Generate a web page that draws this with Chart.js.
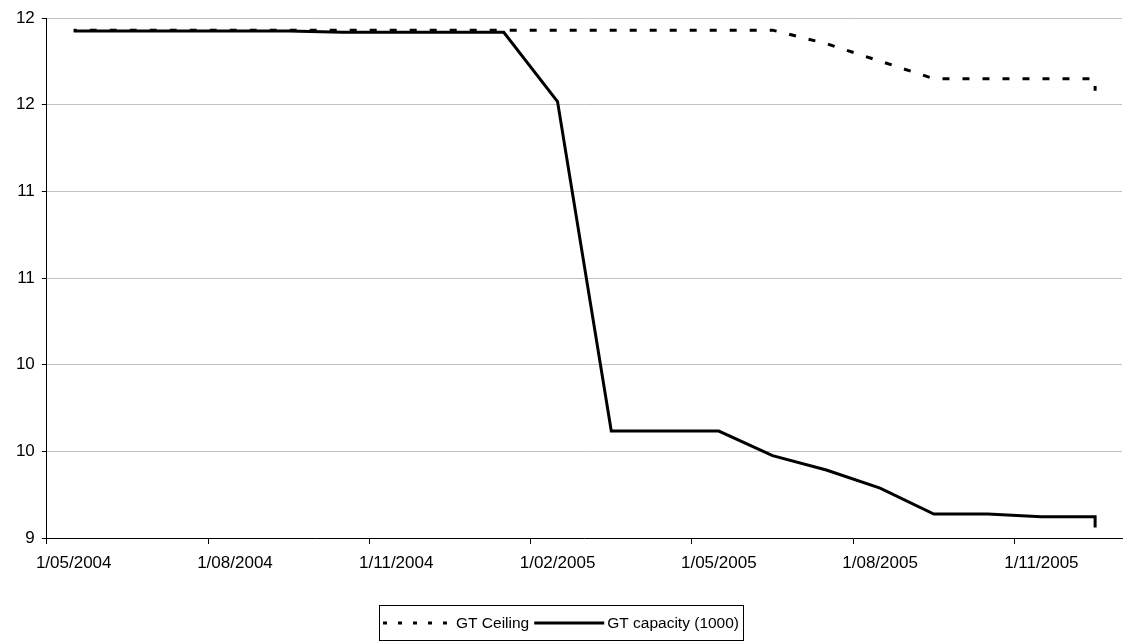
<!DOCTYPE html>
<html>
<head>
<meta charset="utf-8">
<script src="https://cdn.jsdelivr.net/npm/chart.js@4/dist/chart.umd.min.js"></script>
<style>
  html, body { margin: 0; padding: 0; background: #fff; }
  #wrap { width: 1125px; height: 642px; }
</style>
</head>
<body>
<div id="wrap"><canvas id="c" width="1125" height="642"></canvas></div>
<script>
// ---- data (monthly observations; two readings in Dec 2005) ----
const dates = ['2004-05','2004-06','2004-07','2004-08','2004-09','2004-10','2004-11','2004-12',
               '2005-01','2005-02','2005-03','2005-04','2005-05','2005-06','2005-07','2005-08',
               '2005-09','2005-10','2005-11','2005-12','2005-12'];
const gtCeiling = [11.93,11.93,11.93,11.93,11.93,11.93,11.93,11.93,
                   11.93,11.93,11.93,11.93,11.93,11.93,11.852,11.751,
                   11.65,11.65,11.65,11.65,11.58];
const gtCapacity = [11.925,11.925,11.925,11.925,11.925,11.918,11.918,11.918,
                    11.918,11.518,9.617,9.617,9.617,9.475,9.392,9.288,
                    9.138,9.138,9.122,9.122,9.061];
const seriesNames = ['GT Ceiling', 'GT capacity (1000)'];
const xTickLabels = ['1/05/2004','1/08/2004','1/11/2004','1/02/2005','1/05/2005','1/08/2005','1/11/2005'];
const axisStart = '2004-05';
const axisMonths = 20;
const yMin = 9, yMax = 12, yStep = 0.5;

const FONT = '"Liberation Sans", Arial, sans-serif';

// Excel-style date axis, base unit = month: each point sits in its month's slot
function monthIndex(s) {
  const [y, m] = s.split('-').map(Number);
  const [y0, m0] = axisStart.split('-').map(Number);
  return (y - y0) * 12 + (m - m0);
}
const toPoints = vals => vals.map((v, i) => ({ x: monthIndex(dates[i]) + 0.5, y: v }));

// custom boxed legend like the original
const boxedLegend = {
  id: 'boxedLegend',
  afterDraw(chart) {
    const ctx = chart.ctx;
    const fs = 15.5;
    ctx.save();
    ctx.font = fs + 'px ' + FONT;
    const lineLen = 70, gapLT = 3, gapItems = 5, padX = 4;
    const items = chart.data.datasets.map(ds => ({
      label: ds.label, dash: ds.borderDash || [], width: ctx.measureText(ds.label).width
    }));
    let total = padX * 2;
    items.forEach((it, i) => { total += lineLen + gapLT + it.width + (i ? gapItems : 0); });
    const boxTop = 605, boxH = 35;
    let x = Math.round((chart.width - total) / 2) - 1;
    const left = x;
    ctx.strokeStyle = '#000';
    ctx.lineWidth = 1;
    ctx.setLineDash([]);
    ctx.strokeRect(left + 0.5, boxTop + 0.5, Math.round(total), boxH);
    const cy = boxTop + boxH / 2 + 0.5;
    x += padX;
    items.forEach((it, i) => {
      if (i) x += gapItems;
      ctx.beginPath();
      ctx.setLineDash(it.dash.length ? [4, 11] : []);
      ctx.lineWidth = 3;
      ctx.moveTo(x, cy);
      ctx.lineTo(x + lineLen, cy);
      ctx.stroke();
      x += lineLen + gapLT;
      ctx.setLineDash([]);
      ctx.fillStyle = '#000';
      ctx.textBaseline = 'middle';
      ctx.textAlign = 'left';
      ctx.fillText(it.label, x, cy + 1);
      x += it.width;
    });
    ctx.restore();
  }
};

const chart = new Chart(document.getElementById('c'), {
  type: 'line',
  data: {
    datasets: [
      { label: seriesNames[0], data: toPoints(gtCeiling), borderColor: '#000', borderWidth: 3,
        borderDash: [7, 13], borderDashOffset: 4, borderCapStyle: 'butt', pointRadius: 0, tension: 0, order: 1 },
      { label: seriesNames[1], data: toPoints(gtCapacity), borderColor: '#000', borderWidth: 3,
        pointRadius: 0, tension: 0, order: 0 }
    ]
  },
  options: {
    responsive: false,
    animation: false,
    events: [],
    layout: { padding: { top: 18, right: 3, bottom: 64, left: 0 } },
    plugins: { legend: { display: false }, tooltip: { enabled: false } },
    scales: {
      x: {
        type: 'linear', min: 0, max: axisMonths,
        afterBuildTicks: s => { s.ticks = xTickLabels.map((_, i) => ({ value: i * 3 })); },
        afterFit: s => { s.height = 40; },
        grid: { drawOnChartArea: false, drawTicks: true, tickLength: 6, tickColor: '#000' },
        border: { display: true, color: '#000', width: 1 },
        ticks: {
          autoSkip: false, maxRotation: 0, padding: 9, color: '#000',
          font: { family: FONT, size: 17 },
          callback: v => xTickLabels[Math.round(v / 3)]
        }
      },
      y: {
        min: yMin, max: yMax,
        afterFit: s => { s.width = 44; },
        grid: { color: '#c0c0c0', lineWidth: 1, tickColor: '#000', tickLength: 5, drawTicks: true },
        border: { display: true, color: '#000', width: 1 },
        ticks: {
          stepSize: yStep, padding: 7, color: '#000',
          font: { family: FONT, size: 17 },
          callback: v => String(Math.round(v))
        }
      }
    }
  },
  plugins: [boxedLegend]
});

// centre the date labels within their month slot (Excel date axis look)
const xs = chart.scales.x;
chart.options.scales.x.ticks.labelOffset = (xs.getPixelForValue(1) - xs.getPixelForValue(0)) / 2;
chart.update('none');
</script>
</body>
</html>
